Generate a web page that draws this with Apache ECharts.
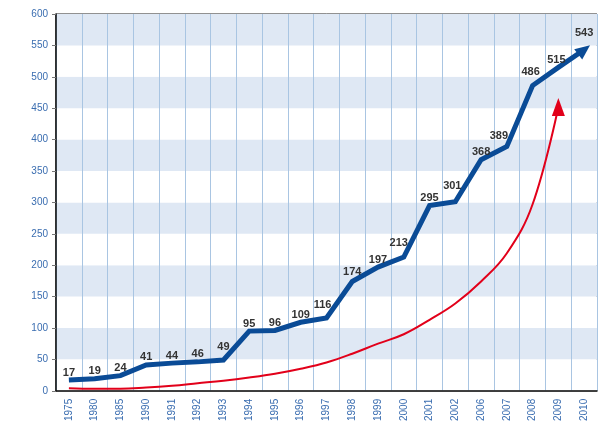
<!DOCTYPE html>
<html>
<head>
<meta charset="utf-8">
<script src="https://cdn.jsdelivr.net/npm/echarts@6/dist/echarts.min.js"></script>
<style>
  html, body { margin: 0; padding: 0; background: #fff; }
  #main { width: 608px; height: 424px; }
</style>
</head>
<body>
<div id="main"></div>
<script>
// 横轴年份
const years = ["1975", "1980", "1985", "1990", "1991", "1992", "1993", "1994", "1995", "1996",
  "1997", "1998", "1999", "2000", "2001", "2002", "2006", "2007", "2008", "2009", "2010"];
// 蓝线数值
const blueValues = [17, 19, 24, 41, 44, 46, 49, 95, 96, 109, 116, 174, 197, 213, 295, 301, 368, 389, 486, 515, 543];
// 红色趋势线
const redValues = [4, 3, 3, 5, 8, 12, 16, 21, 27, 35, 45, 59, 75, 90, 113, 139, 174, 219, 297, 452, null];
// 纵轴刻度
const yTicks = { min: 0, max: 600, interval: 50 };

// 个别标签微调 (避开陡峭线段)
const labelNudge = {
  6: [0, -5],
  10: [-4, -5],
  11: [0, -2],
  13: [-5, -6],
  15: [-3, -8],
  17: [-8, -3],
  18: [-2, -6],
  19: [-2, 0],
};

const chart = echarts.init(document.getElementById("main"));

// 最后一个点画成箭头
const withArrow = (values, rotate, size, color) =>
  values.map((v, i) => {
    const last = i === values.length - 1 || (values[i + 1] === null && v !== null);
    const item = { value: v };
    if (labelNudge[i] && color === "#0a4b96") item.label = { offset: labelNudge[i] };
    if (last) {
      Object.assign(item, { symbol: "triangle", symbolSize: size, symbolRotate: rotate, itemStyle: { color } });
    }
    return item;
  });

const options = {
  animation: false,
  grid: {
    left: 56,
    top: 14,
    right: 11,
    bottom: 32,
    show: true,
    borderColor: "#222",
    borderWidth: 1,
  },
  xAxis: {
    type: "category",
    data: years,
    boundaryGap: true,
    axisLine: { lineStyle: { color: "#111", width: 1.5 } },
    axisTick: { show: false },
    axisLabel: {
      rotate: 90,
      interval: 0,
      color: "#3a6db0",
      fontSize: 10,
      fontFamily: "Liberation Sans",
      margin: 8,
    },
    // 竖向网格线
    splitLine: {
      show: true,
      interval: 0,
      lineStyle: { color: "#a9c5e2", width: 1 },
    },
  },
  yAxis: {
    type: "value",
    min: yTicks.min,
    max: yTicks.max,
    interval: yTicks.interval,
    axisLine: { show: true, lineStyle: { color: "#111", width: 1.5 } },
    axisTick: { show: true, length: 4, lineStyle: { color: "#777" } },
    axisLabel: {
      color: "#3a6db0",
      fontSize: 10,
      fontFamily: "Liberation Sans",
      margin: 8,
    },
    splitLine: { show: false },
    // 横向色带
    splitArea: {
      show: true,
      areaStyle: { color: ["#ffffff", "#dfe8f4"] },
    },
  },
  series: [
    {
      type: "line",
      data: withArrow(redValues, 0, [13, 18], "#e2001a"),
      smooth: 0.4,
      symbol: "none",
      lineStyle: { color: "#e2001a", width: 2 },
      z: 2,
    },
    {
      type: "line",
      data: withArrow(blueValues, -52, [13, 15], "#0a4b96"),
      // 点隐藏, 只保留标签
      symbol: "circle",
      symbolSize: 0.1,
      itemStyle: { color: "#0a4b96" },
      lineStyle: { color: "#0a4b96", width: 5, join: "miter" },
      label: {
        show: true,
        position: "top",
        distance: 2,
        color: "#333",
        fontSize: 11,
        fontWeight: "bold",
        fontFamily: "Liberation Sans",
      },
      z: 3,
    },
  ],
};
chart.setOption(options);
</script>
</body>
</html>
